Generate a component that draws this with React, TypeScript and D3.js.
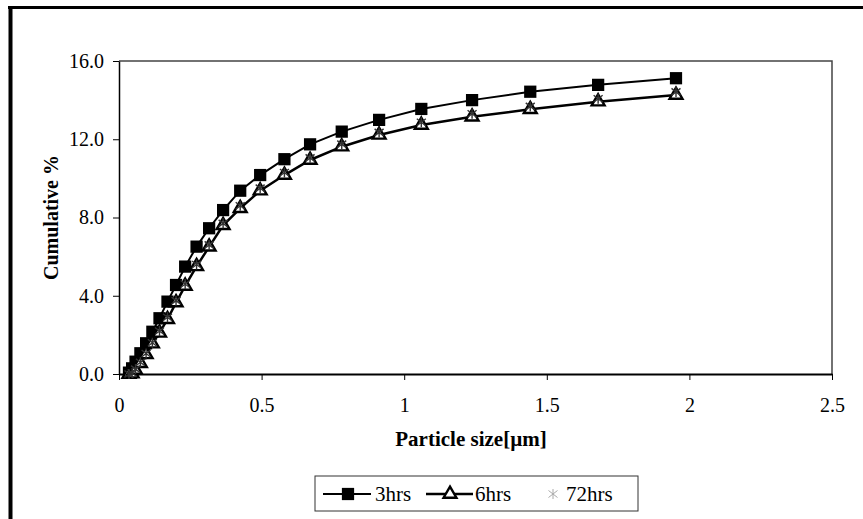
import { useEffect, useRef } from "react";
import { select, scaleLinear, line, axisBottom, axisLeft, symbol, symbolSquare, symbolTriangle } from "d3";

// particle size bins [µm] and cumulative %
const particleSize = [0.035, 0.046, 0.058, 0.075, 0.095, 0.117, 0.142, 0.17, 0.2, 0.232, 0.272, 0.316, 0.365, 0.425, 0.495, 0.58, 0.67, 0.781, 0.912, 1.06, 1.238, 1.442, 1.68, 1.953];
const cum3hrs = [0.07, 0.29, 0.63, 1.06, 1.57, 2.16, 2.85, 3.7, 4.55, 5.49, 6.51, 7.45, 8.38, 9.37, 10.17, 10.98, 11.74, 12.39, 12.99, 13.55, 14.0, 14.43, 14.78, 15.12];
const cum6hrs = [0.0, 0.02, 0.2, 0.55, 1.0, 1.55, 2.1, 2.8, 3.65, 4.5, 5.5, 6.5, 7.6, 8.47, 9.37, 10.17, 10.94, 11.62, 12.22, 12.73, 13.15, 13.53, 13.92, 14.26];
const cum72hrs = [0.0, 0.05, 0.25, 0.6, 1.05, 1.6, 2.2, 2.9, 3.75, 4.6, 5.6, 6.6, 7.7, 8.6, 9.5, 10.3, 11.05, 11.75, 12.35, 12.87, 13.3, 13.68, 14.07, 14.42];

const xTicks = [0, 0.5, 1, 1.5, 2, 2.5];
const yTicks = [0, 4, 8, 12, 16];
const seriesNames = ["3hrs", "6hrs", "72hrs"];

const FONT = "'Liberation Serif', 'Times New Roman', serif";

export default function App() {
    const svgRef = useRef<SVGSVGElement>(null);

    useEffect(() => {
        const svg = select(svgRef.current);
        svg.selectAll("*").remove();

        const Margin = { top: 61, right: 31, bottom: 145, left: 119 };
        const Width = 863;
        const Height = 519;

        const xScale = scaleLinear().domain([0, 2.5]).range([Margin.left, Width - Margin.right]);
        const yScale = scaleLinear().domain([0, 16]).range([Height - Margin.bottom, Margin.top]);

        // outer frame (scanned page border)
        svg.append("line")
            .attr("x1", 10.5).attr("x2", 10.5).attr("y1", 6).attr("y2", Height)
            .attr("stroke", "#000").attr("stroke-width", 4);
        svg.append("line")
            .attr("x1", 8).attr("x2", Width).attr("y1", 7.5).attr("y2", 7.5)
            .attr("stroke", "#000").attr("stroke-width", 3);

        // plot area top / right border
        svg.append("path")
            .attr("d", `M${xScale(0)},${yScale(16)}H${xScale(2.5)}V${yScale(0)}`)
            .attr("fill", "none")
            .attr("stroke", "#444")
            .attr("stroke-width", 1.5);

        // axes
        const xAxis = axisBottom(xScale)
            .tickValues(xTicks)
            .tickFormat((d) => String(d))
            .tickSizeInner(6)
            .tickSizeOuter(0)
            .tickPadding(18);
        const gx = svg.append("g")
            .attr("transform", `translate(0,${yScale(0)})`)
            .call(xAxis);
        gx.select(".domain").attr("stroke", "#000").attr("stroke-width", 2);
        gx.selectAll(".tick line").attr("stroke", "#000").attr("stroke-width", 1);

        const yAxis = axisLeft(yScale)
            .tickValues(yTicks)
            .tickFormat((d) => (+d).toFixed(1))
            .tickSizeInner(6)
            .tickSizeOuter(0)
            .tickPadding(9);
        const gy = svg.append("g")
            .attr("transform", `translate(${xScale(0)},0)`)
            .call(yAxis);
        gy.select(".domain").attr("stroke", "#000").attr("stroke-width", 1.5);
        gy.selectAll(".tick line").attr("stroke", "#000").attr("stroke-width", 1);

        svg.selectAll(".tick text")
            .attr("fill", "#000")
            .style("font-family", FONT)
            .style("font-size", "20px");

        // axis labels
        svg.append("text")
            .attr("x", 471)
            .attr("y", 446)
            .attr("text-anchor", "middle")
            .style("font-family", FONT)
            .style("font-size", "21px")
            .style("font-weight", "bold")
            .text("Particle size[µm]");

        svg.append("text")
            .attr("transform", `translate(58,${(yScale(0) + yScale(16)) / 2}) rotate(-90)`)
            .attr("text-anchor", "middle")
            .style("font-family", FONT)
            .style("font-size", "20px")
            .style("font-weight", "bold")
            .text("Cumulative %");

        const allSeries = [cum3hrs, cum6hrs, cum72hrs].map((vals) =>
            vals.map((v, i) => ({ x: particleSize[i], y: v }))
        );

        const myLine = line<{ x: number; y: number }>()
            .x((d) => xScale(d.x))
            .y((d) => yScale(d.y));

        const squarePath = symbol().type(symbolSquare).size(150)();
        const trianglePath = symbol().type(symbolTriangle).size(72)();
        const starPath = "M0,-5V5M-4.5,-3.5L4.5,3.5M-4.5,3.5L4.5,-3.5";

        // 3hrs
        svg.append("path")
            .datum(allSeries[0])
            .attr("d", myLine)
            .attr("fill", "none")
            .attr("stroke", "#000")
            .attr("stroke-width", 2);
        svg.append("g")
            .selectAll("path")
            .data(allSeries[0])
            .join("path")
            .attr("d", squarePath)
            .attr("transform", (d) => `translate(${xScale(d.x)},${yScale(d.y)})`)
            .attr("fill", "#000");

        // 6hrs
        svg.append("path")
            .datum(allSeries[1])
            .attr("d", myLine)
            .attr("fill", "none")
            .attr("stroke", "#000")
            .attr("stroke-width", 2.5);
        svg.append("g")
            .selectAll("path")
            .data(allSeries[1])
            .join("path")
            .attr("d", trianglePath)
            .attr("transform", (d) => `translate(${xScale(d.x)},${yScale(d.y)})`)
            .attr("fill", "#fff")
            .attr("stroke", "#000")
            .attr("stroke-width", 2.4);

        // 72hrs (markers only)
        svg.append("g")
            .selectAll("path")
            .data(allSeries[2])
            .join("path")
            .attr("d", starPath)
            .attr("transform", (d) => `translate(${xScale(d.x)},${yScale(d.y)})`)
            .attr("fill", "none")
            .attr("stroke", "#333")
            .attr("stroke-width", 1.4);

        // legend
        const legend = svg.append("g").attr("transform", "translate(315,476)");
        legend.append("rect")
            .attr("width", 323)
            .attr("height", 35)
            .attr("fill", "#fff")
            .attr("stroke", "#333")
            .attr("stroke-width", 1);

        const legendItems = [
            { x0: 8, x1: 56, mx: 33, tx: 60, marker: "square" },
            { x0: 111, x1: 158, mx: 135, tx: 160, marker: "triangle" },
            { x0: 0, x1: 0, mx: 238, tx: 251, marker: "star" },
        ];
        legendItems.forEach((item, i) => {
            if (item.x1 > item.x0) {
                legend.append("line")
                    .attr("x1", item.x0).attr("x2", item.x1)
                    .attr("y1", 18).attr("y2", 18)
                    .attr("stroke", "#000")
                    .attr("stroke-width", i === 1 ? 2.5 : 2);
            }
            const m = legend.append("path").attr("transform", `translate(${item.mx},18)`);
            if (item.marker === "square") m.attr("d", squarePath).attr("fill", "#000");
            if (item.marker === "triangle")
                m.attr("d", trianglePath).attr("fill", "#fff").attr("stroke", "#000").attr("stroke-width", 2.4);
            if (item.marker === "star")
                m.attr("d", starPath).attr("fill", "none").attr("stroke", "#aaa").attr("stroke-width", 1);
            legend.append("text")
                .attr("x", item.tx)
                .attr("y", 25)
                .style("font-family", FONT)
                .style("font-size", "21px")
                .text(seriesNames[i]);
        });
    }, []);

    return (
        <div style={{ position: "absolute", left: 0, top: 0 }}>
            <svg ref={svgRef} width={863} height={519} style={{ display: "block", background: "#fff" }}></svg>
        </div>
    );
}
